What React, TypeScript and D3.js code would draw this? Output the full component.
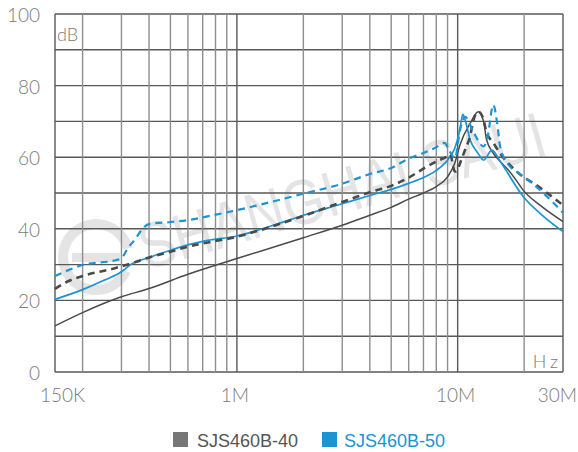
import React from 'react';
import * as d3 from 'd3';

const W = 578;
const H = 452;

// Grid and axis definitions
const gridFreqs = [2e5, 3e5, 4e5, 5e5, 6e5, 7e5, 8e5, 9e5, 1e6, 2e6, 3e6, 4e6, 5e6, 6e6, 7e6, 8e6, 9e6, 1e7, 2e7];
const decadeFreqs = [1e6, 1e7];
const gridLevels = [0, 10, 20, 30, 40, 50, 60, 70, 80, 90, 100];
const yTickValues = [0, 20, 40, 60, 80, 100];
const xTickFreqs = [1.5e5, 1e6, 1e7, 3e7];
const xTickLabels = ['150K', '1M', '10M', '30M'];

const seriesNames = ['SJS460B-40', 'SJS460B-50'];

// SJS460B-40, solid trace
const s40SolidFreq = [1.5e5, 2e5, 3e5, 4e5, 6e5, 1e6, 2e6, 3e6, 4e6, 5e6, 6e6, 7e6, 8e6, 9e6, 9.7e6, 10.25e6, 11.4e6, 12.4e6, 13.1e6, 13.5e6, 14.5e6, 15.6e6, 16.7e6, 18.5e6, 19.8e6, 23.6e6, 30e6];
const s40SolidDb = [12.9, 16.6, 21.0, 23.3, 27.3, 31.7, 37.5, 41.0, 43.8, 46.0, 48.3, 50.0, 51.8, 54.5, 58.3, 63.5, 69.5, 72.7, 70.0, 65.0, 61.1, 58.8, 56.9, 53.4, 50.8, 46.6, 42.0];

// SJS460B-40, dashed trace
const s40DashFreq = [1.5e5, 1.7e5, 2e5, 2.8e5, 3.5e5, 4e5, 5e5, 6e5, 1e6, 2e6, 3e6, 4e6, 5e6, 6e6, 7e6, 8e6, 9e6, 9.25e6, 9.7e6, 10e6, 10.25e6, 10.8e6, 11.4e6, 11.8e6, 12.4e6, 13.1e6, 13.5e6, 14.5e6, 15.6e6, 18.5e6, 23.6e6, 30e6];
const s40DashDb = [23.2, 25.2, 26.8, 29.0, 30.8, 32.0, 33.6, 35.0, 37.8, 43.6, 47.5, 50.2, 52.0, 54.3, 56.8, 58.8, 60.3, 60.8, 56.0, 56.5, 58.3, 62.0, 66.0, 70.4, 72.7, 70.5, 67.0, 64.0, 61.0, 56.0, 51.5, 46.6];

// SJS460B-50, solid trace
const s50SolidFreq = [1.5e5, 2e5, 2.5e5, 3e5, 3.3e5, 4e5, 5e5, 6e5, 7e5, 1e6, 1.5e6, 2e6, 3e6, 4e6, 5e6, 6e6, 7e6, 8e6, 9.2e6, 9.7e6, 10.25e6, 10.55e6, 10.8e6, 11.4e6, 12.4e6, 13.1e6, 14.3e6, 15.6e6, 19.8e6, 23.6e6, 30e6];
const s50SolidDb = [20.3, 23.0, 25.6, 28.0, 30.0, 32.0, 34.0, 35.5, 36.5, 38.0, 41.2, 43.8, 47.0, 49.3, 51.0, 52.7, 54.3, 56.3, 60.0, 62.5, 68.0, 72.0, 70.5, 64.8, 61.0, 59.2, 62.0, 58.8, 49.0, 44.3, 39.2];

// SJS460B-50, dashed trace
const s50DashFreq = [1.5e5, 2e5, 2.85e5, 3e5, 3.2e5, 3.5e5, 3.7e5, 4e5, 5e5, 6e5, 7e5, 1e6, 2e6, 3e6, 4e6, 5e6, 6e6, 7e6, 8e6, 8.7e6, 9.23e6, 9.72e6, 10.25e6, 10.8e6, 11.8e6, 13.1e6, 13.6e6, 14.5e6, 15.1e6, 15.6e6, 17.3e6, 18.5e6, 22e6, 30e6];
const s50DashDb = [26.8, 29.9, 31.3, 31.8, 34.5, 37.5, 39.7, 41.3, 41.9, 42.4, 43.2, 45.2, 49.8, 52.6, 55.3, 57.0, 59.6, 61.2, 62.8, 64.0, 61.5, 59.7, 67.6, 71.3, 67.0, 63.0, 65.0, 74.6, 69.5, 62.7, 57.3, 56.0, 52.5, 44.5];

const GRAY = '#4a4a4a';
const BLUE = '#1c94d2';
const GRID_DARK = '#585858';
const GRID_LIGHT = '#8e8e8e';
const LABEL = '#7a7a7a';
const TICK_FONT = 'Lato, "Noto Sans", sans-serif';

export default function App() {
  const x = d3.scaleLog().domain([1.5e5, 3e7]).range([55, 563]);
  const y = d3.scaleLinear().domain([0, 100]).range([372, 14]);

  const path = (f: number[], v: number[]) =>
    d3
      .line<number>()
      .x((_, i) => x(f[i]))
      .y((d) => y(d))
      .curve(d3.curveMonotoneX)(v) as string;

  const [x0, x1] = x.range();
  const [y0, y1] = y.range();

  // Watermark geometry
  const wmAngle = -16;
  const logoCx = 96;
  const logoCy = 257;
  const logoR = 33;
  const ring = d3
    .arc()
    .innerRadius(logoR - 5)
    .outerRadius(logoR + 5)
    .startAngle((115 * Math.PI) / 180)
    .endAngle(((360 + 75) * Math.PI) / 180);

  return (
    <svg width={W} height={H} style={{ position: 'absolute', left: 0, top: 0, background: '#fff' }}>
      {/* watermark */}
      <g fill="#e4e4e4">
        <path d={ring({} as any) as string} transform={`translate(${logoCx},${logoCy})`} />
        <rect x={logoCx - 24} y={logoCy - 4} width={48} height={9} />
        <text
          x={146}
          y={270}
          transform={`rotate(${wmAngle},146,270)`}
          fontFamily='"Liberation Sans", Arial, sans-serif'
          fontSize={64}
          textLength={420}
          lengthAdjust="spacingAndGlyphs"
        >
          SHANGHAI SAUI
        </text>
      </g>

      {/* horizontal grid */}
      {gridLevels.map((v) => (
        <line key={'h' + v} x1={x0} x2={x1} y1={y(v)} y2={y(v)} stroke={GRID_DARK} strokeWidth={1.4} />
      ))}
      {/* vertical grid */}
      {gridFreqs.map((f) => (
        <line
          key={'v' + f}
          x1={x(f)}
          x2={x(f)}
          y1={y1}
          y2={y0}
          stroke={decadeFreqs.includes(f) ? GRID_DARK : GRID_LIGHT}
          strokeWidth={1.4}
        />
      ))}
      <line x1={x0} x2={x0} y1={y1} y2={y0} stroke={GRID_DARK} strokeWidth={1.4} />
      <line x1={x1} x2={x1} y1={y1} y2={y0} stroke={GRID_DARK} strokeWidth={1.4} />

      {/* traces */}
      <path d={path(s40SolidFreq, s40SolidDb)} fill="none" stroke={GRAY} strokeWidth={1.5} />
      <path d={path(s50SolidFreq, s50SolidDb)} fill="none" stroke={BLUE} strokeWidth={1.7} />
      <path d={path(s40DashFreq, s40DashDb)} fill="none" stroke={GRAY} strokeWidth={2.6} strokeDasharray="7 5" />
      <path d={path(s50DashFreq, s50DashDb)} fill="none" stroke={BLUE} strokeWidth={2.2} strokeDasharray="7 5" />

      {/* y tick labels */}
      {yTickValues.map((v) => (
        <text
          key={'yl' + v}
          x={40}
          y={y(v) + 8}
          textAnchor="end"
          fontFamily={TICK_FONT}
          fontWeight={300}
          fontSize={19}
          fill={LABEL}
        >
          {v}
        </text>
      ))}
      <text x={57} y={41} fontFamily={TICK_FONT} fontWeight={300} fontSize={18} fill={LABEL}>
        dB
      </text>
      <text x={562} y={368} textAnchor="end" fontFamily={TICK_FONT} fontWeight={300} fontSize={18} letterSpacing={4} fill={LABEL}>
        Hz
      </text>

      {/* x tick labels */}
      {xTickFreqs.map((f, i) => {
        const last = i === xTickFreqs.length - 1;
        const first = i === 0;
        return (
          <text
            key={'xl' + f}
            x={first ? x(f) - 15 : last ? x(f) + 14 : x(f) - 2}
            y={402}
            textAnchor={first ? 'start' : last ? 'end' : 'middle'}
            fontFamily={TICK_FONT}
            fontWeight={300}
            fontSize={19}
            fill={LABEL}
          >
            {xTickLabels[i]}
          </text>
        );
      })}

      {/* legend */}
      <rect x={173} y={432} width={15} height={15} fill="#777" />
      <text x={197} y={447} fontFamily='"Liberation Sans", Arial, sans-serif' fontSize={18} fill="#555">
        {seriesNames[0]}
      </text>
      <rect x={322} y={432} width={15} height={15} fill={BLUE} />
      <text x={344} y={447} fontFamily='"Liberation Sans", Arial, sans-serif' fontSize={18} fill={BLUE}>
        {seriesNames[1]}
      </text>
    </svg>
  );
}
